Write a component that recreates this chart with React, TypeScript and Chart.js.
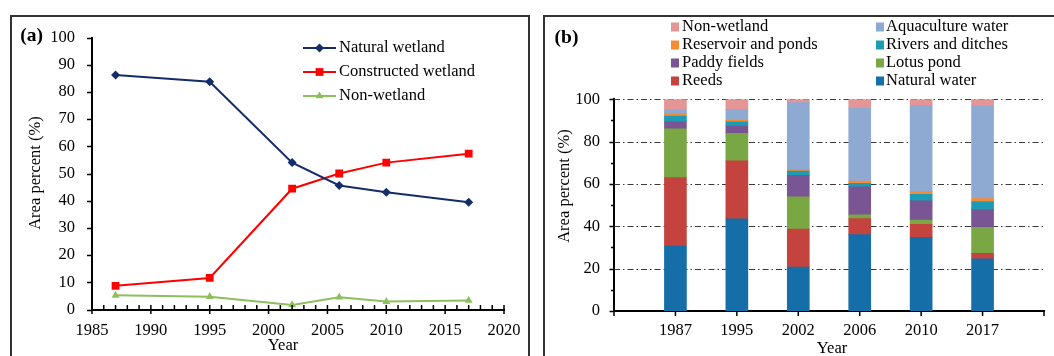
import React, { useEffect, useRef } from 'react';
import { Chart, registerables } from 'chart.js';

Chart.register(...registerables);

// ---------- Panel (a): area percent of wetland classes ----------
const years = [1987, 1995, 2002, 2006, 2010, 2017];
const naturalWetland = [86.2, 83.7, 54.0, 45.6, 43.1, 39.4];
const constructedWetland = [8.7, 11.6, 44.4, 50.0, 54.0, 57.3];
const nonWetlandLine = [5.2, 4.7, 1.7, 4.5, 2.9, 3.3];
const lineLabels = ['Natural wetland', 'Constructed wetland', 'Non-wetland'];

// ---------- Panel (b): stacked composition ----------
const barYears = ['1987', '1995', '2002', '2006', '2010', '2017'];
const naturalWater = [30.7, 43.5, 20.8, 36.1, 34.8, 24.6];
const reeds = [32.3, 27.4, 17.9, 7.5, 6.1, 2.6];
const lotusPond = [23.0, 13.0, 15.2, 1.8, 2.1, 12.3];
const paddyFields = [3.3, 3.5, 10.2, 13.3, 9.0, 8.4];
const riversDitches = [2.8, 2.0, 2.0, 1.6, 3.1, 3.8];
const reservoirPonds = [1.1, 0.7, 0.7, 1.1, 1.4, 1.4];
const aquacultureWater = [1.8, 5.2, 31.6, 34.3, 40.7, 43.8];
const nonWetlandBar = [5.0, 4.7, 1.6, 4.3, 2.8, 3.1];
const barLabels = [
  'Natural water', 'Reeds', 'Lotus pond', 'Paddy fields',
  'Rivers and ditches', 'Reservoir and ponds', 'Aquaculture water', 'Non-wetland',
];

const FAMILY = '"Liberation Serif", "Times New Roman", serif';
const FS = 16.5;
const FONT = `${FS}px ${FAMILY}`;
const BOLD = `bold 19.5px ${FAMILY}`;

const NAVY = '#142c6a';
const RED = '#ff0000';
const GREEN = '#8dbf5c';
const BAR_COLORS = ['#166ea8', '#c4433e', '#78a743', '#7a5593', '#1b9bb4', '#f68b31', '#8eaad3', '#e49595'];

function marker(ctx: CanvasRenderingContext2D, style: string, x: number, y: number, r: number, color: string) {
  ctx.fillStyle = color;
  ctx.beginPath();
  if (style === 'rectRot') {
    ctx.moveTo(x, y - r); ctx.lineTo(x + r, y); ctx.lineTo(x, y + r); ctx.lineTo(x - r, y);
  } else if (style === 'rect') {
    const s = r * Math.SQRT1_2;
    ctx.rect(x - s, y - s, 2 * s, 2 * s);
  } else {
    const a = (2 * Math.PI) / 3;
    ctx.moveTo(x, y - r);
    ctx.lineTo(x + Math.sin(a) * r, y - Math.cos(a) * r);
    ctx.lineTo(x + Math.sin(2 * a) * r, y - Math.cos(2 * a) * r);
  }
  ctx.closePath();
  ctx.fill();
}

function vText(ctx: CanvasRenderingContext2D, text: string, x: number, y: number) {
  ctx.save();
  ctx.translate(x, y);
  ctx.rotate(-Math.PI / 2);
  ctx.textAlign = 'center';
  ctx.textBaseline = 'middle';
  ctx.fillText(text, 0, 0);
  ctx.restore();
}

function PanelA() {
  const ref = useRef<HTMLCanvasElement>(null);
  useEffect(() => {
    const canvas = ref.current!;
    const font = { family: FAMILY, size: FS };
    const styles = [
      { c: NAVY, p: 'rectRot', r: 4.5 },
      { c: RED, p: 'rect', r: 5.5 },
      { c: GREEN, p: 'triangle', r: 4.6 },
    ];
    const series = [naturalWetland, constructedWetland, nonWetlandLine];
    const deco = {
      id: 'decoA',
      afterDraw(chart: any) {
        const ctx = chart.ctx as CanvasRenderingContext2D;
        const xs = chart.scales.x;
        const ys = chart.scales.y;
        const { left, bottom } = chart.chartArea;
        ctx.save();
        ctx.strokeStyle = '#000';
        ctx.lineWidth = 1.5;
        ctx.beginPath();
        for (let v = 0; v <= 100; v += 10) {
          const y = Math.round(ys.getPixelForValue(v)) + 0.5;
          ctx.moveTo(left - 5, y); ctx.lineTo(left, y);
        }
        for (let yr = 1985; yr <= 2020; yr++) {
          const x = xs.getPixelForValue(yr);
          if (yr % 5 === 0) { ctx.moveTo(x, bottom - 4.5); ctx.lineTo(x, bottom + 4.5); }
          else { ctx.moveTo(x, bottom - 4.5); ctx.lineTo(x, bottom); }
        }
        ctx.stroke();
        // legend
        chart.data.datasets.forEach((ds: any, i: number) => {
          const y = 48 + i * 24;
          ctx.strokeStyle = ds.borderColor;
          ctx.lineWidth = 2;
          ctx.beginPath(); ctx.moveTo(303, y); ctx.lineTo(336, y); ctx.stroke();
          marker(ctx, styles[i].p, 319.5, y, styles[i].r, styles[i].c);
          ctx.fillStyle = '#000';
          ctx.font = FONT;
          ctx.textAlign = 'left';
          ctx.textBaseline = 'middle';
          ctx.fillText(ds.label, 339, y);
        });
        ctx.fillStyle = '#000';
        ctx.font = BOLD;
        ctx.textAlign = 'center';
        ctx.textBaseline = 'middle';
        ctx.fillText('(a)', 31.5, 36);
        ctx.font = FONT;
        ctx.fillText('Year', 283, 346);
        vText(ctx, 'Area percent (%)', 36, 173);
        ctx.restore();
      },
    };
    const chart = new Chart(canvas, {
      type: 'line',
      data: {
        datasets: series.map((s, k) => ({
          label: lineLabels[k],
          data: years.map((x, i) => ({ x, y: s[i] })),
          borderColor: styles[k].c,
          backgroundColor: styles[k].c,
          pointBackgroundColor: styles[k].c,
          pointBorderColor: styles[k].c,
          pointStyle: styles[k].p as any,
          pointRadius: styles[k].r,
          pointBorderWidth: 0,
          borderWidth: 2,
          tension: 0,
        })),
      },
      options: {
        animation: false,
        responsive: false,
        devicePixelRatio: 1,
        layout: { padding: { left: 0, right: 34, top: 37.5, bottom: 0 } },
        plugins: { legend: { display: false }, tooltip: { enabled: false } },
        scales: {
          x: {
            type: 'linear', min: 1985, max: 2020,
            ticks: { stepSize: 5, callback: (v: any) => String(v), font, color: '#000', padding: 11, maxRotation: 0, autoSkip: false },
            grid: { display: false, drawTicks: false },
            border: { display: true, color: '#000', width: 2 },
            afterFit: (s: any) => { s.height = 46.5; },
          },
          y: {
            min: 0, max: 100,
            ticks: { stepSize: 10, font, color: '#000', padding: 17 },
            grid: { display: false, drawTicks: false },
            border: { display: true, color: '#000', width: 2 },
            afterFit: (s: any) => { s.width = 92; },
          },
        },
      } as any,
      plugins: [deco],
    });
    return () => chart.destroy();
  }, []);
  return <canvas ref={ref} width={538} height={356} style={{ position: 'absolute', left: 0, top: 0, width: 538, height: 356, display: 'block' }} />;
}

function PanelB() {
  const ref = useRef<HTMLCanvasElement>(null);
  useEffect(() => {
    const canvas = ref.current!;
    const font = { family: FAMILY, size: FS };
    const stacks = [naturalWater, reeds, lotusPond, paddyFields, riversDitches, reservoirPonds, aquacultureWater, nonWetlandBar];
    const deco = {
      id: 'decoB',
      beforeDatasetsDraw(chart: any) {
        const ctx = chart.ctx as CanvasRenderingContext2D;
        const ys = chart.scales.y;
        const { left, right } = chart.chartArea;
        ctx.save();
        ctx.strokeStyle = '#3a3a3a';
        ctx.lineWidth = 1;
        ctx.setLineDash([6, 3, 1.5, 3]);
        ctx.beginPath();
        for (let v = 20; v <= 100; v += 20) {
          const y = Math.round(ys.getPixelForValue(v)) + 0.5;
          ctx.moveTo(left, y); ctx.lineTo(right, y);
        }
        ctx.stroke();
        ctx.restore();
      },
      afterDraw(chart: any) {
        const ctx = chart.ctx as CanvasRenderingContext2D;
        const xs = chart.scales.x;
        const ys = chart.scales.y;
        const { left, bottom } = chart.chartArea;
        ctx.save();
        ctx.strokeStyle = '#000';
        ctx.lineWidth = 1.5;
        ctx.beginPath();
        for (let v = 0; v <= 100; v += 10) {
          const y = Math.round(ys.getPixelForValue(v)) + 0.5;
          ctx.moveTo(left - (v % 20 === 0 ? 4.5 : 3), y); ctx.lineTo(left, y);
        }
        const n = chart.data.labels.length;
        for (let i = 0; i < n; i++) {
          const x = xs.getPixelForValue(i);
          ctx.moveTo(x, bottom); ctx.lineTo(x, bottom + 5);
        }
        ctx.stroke();
        // legend: reversed order, two columns
        const ds = [...chart.data.datasets].reverse();
        ctx.font = FONT;
        ctx.textAlign = 'left';
        ctx.textBaseline = 'middle';
        ds.forEach((d: any, i: number) => {
          const col = i % 2;
          const row = Math.floor(i / 2);
          const sx = col === 0 ? 133 : 338;
          const tx = col === 0 ? 144 : 348;
          const y = 27 + row * 18;
          ctx.fillStyle = d.backgroundColor;
          ctx.fillRect(sx, y - 4.5, 8, 9);
          ctx.fillStyle = '#000';
          ctx.fillText(d.label, tx, y);
        });
        ctx.font = BOLD;
        ctx.textAlign = 'center';
        ctx.fillText('(b)', 28.5, 38);
        ctx.font = FONT;
        ctx.fillText('Year', 294, 349);
        vText(ctx, 'Area percent (%)', 27, 186);
        ctx.restore();
      },
    };
    const chart = new Chart(canvas, {
      type: 'bar',
      data: {
        labels: ['', ...barYears, ''],
        datasets: stacks.map((s, k) => ({
          label: barLabels[k],
          data: [null, ...s, null],
          backgroundColor: BAR_COLORS[k],
          borderWidth: 0,
          barThickness: 22,
        })),
      },
      options: {
        animation: false,
        responsive: false,
        devicePixelRatio: 1,
        layout: { padding: { left: 0, right: 6, top: 99.3, bottom: 0 } },
        plugins: { legend: { display: false }, tooltip: { enabled: false } },
        scales: {
          x: {
            stacked: true, offset: false,
            ticks: { font, color: '#000', padding: 10, maxRotation: 0, autoSkip: false },
            grid: { display: false, drawTicks: false },
            border: { display: true, color: '#000', width: 2 },
            afterFit: (s: any) => { s.height = 45; },
          },
          y: {
            stacked: true, min: 0, max: 100,
            ticks: { stepSize: 20, font, color: '#000', padding: 14 },
            grid: { display: false, drawTicks: false },
            border: { display: true, color: '#000', width: 2 },
            afterFit: (s: any) => { s.width = 76; },
          },
        },
      } as any,
      plugins: [deco],
    });
    return () => chart.destroy();
  }, []);
  return <canvas ref={ref} width={516} height={356} style={{ position: 'absolute', left: 538, top: 0, width: 516, height: 356, display: 'block' }} />;
}

export default function App() {
  return (
    <div style={{ position: 'absolute', left: 0, top: 0, width: 1054, height: 356, overflow: 'hidden', background: '#fff' }}>
      <div style={{ position: 'absolute', left: 10, top: 15, width: 520, height: 400, border: '2px solid #333', boxSizing: 'border-box' }} />
      <div style={{ position: 'absolute', left: 543, top: 15, width: 520, height: 400, border: '2px solid #333', boxSizing: 'border-box' }} />
      <PanelA />
      <PanelB />
    </div>
  );
}
